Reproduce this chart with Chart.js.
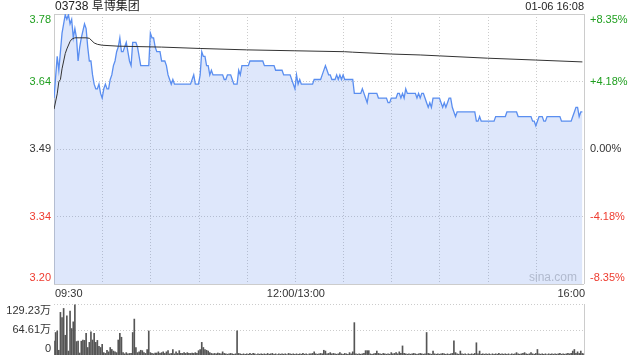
<!DOCTYPE html>
<html>
<head>
<meta charset="utf-8">
<script src="https://cdn.jsdelivr.net/npm/chart.js@4.4.1/dist/chart.umd.min.js"></script>
<style>
  body { margin: 0; background: #fff; }
  #wrap { position: relative; width: 640px; height: 360px; }
  canvas { position: absolute; left: 0; }
  #price-chart { top: 0; }
  #volume-chart { top: 300px; }
</style>
</head>
<body>
<div id="wrap">
  <canvas id="price-chart" width="640" height="300"></canvas>
  <canvas id="volume-chart" width="640" height="60"></canvas>
</div>
<script>
const STOCK_TITLE = '03738 阜博集团';
const STAMP = '01-06 16:08';
const PREV_CLOSE = 3.49;
const RANGE_PCT = 0.0835;
const TOTAL_MINUTES = 330;

const PRICE_TICK_LABELS = ['3.78', '3.64', '3.49', '3.34', '3.20'];
const PCT_TICK_LABELS = ['+8.35%', '+4.18%', '0.00%', '-4.18%', '-8.35%'];
const TIME_LABELS = ['09:30', '12:00/13:00', '16:00'];
const TIME_LABEL_MINUTES = [0, 150, 330];
const VOLUME_MAX = 129.23;
const VOLUME_TICK_LABELS = ['129.23万', '64.61万', '0'];

// minute index (0 = 09:30, 150 = 12:00/13:00, 330 = 16:00) and last price
const PRICE_MINUTES = [0, 2, 3, 4, 5, 7, 8, 9, 10, 11, 12, 13, 14, 15, 16, 17, 19, 20, 21, 22, 23, 24, 25, 26, 27, 28, 29, 30,
  31, 32, 33, 34, 35, 36, 37, 38, 39, 40, 41, 42, 43, 44, 45, 46, 47, 48, 49, 51, 52, 53, 54, 59, 60, 61, 62, 63, 64, 66, 67,
  69, 70, 71, 72, 73, 74, 75, 85, 86, 87, 88, 90, 91, 92, 93, 94, 95, 96, 97, 98, 99, 105, 106, 107, 108, 110, 111, 112, 114,
  115, 116, 117, 121, 122, 130, 131, 137, 138, 142, 143, 147, 148, 149, 150, 151, 152, 153, 154, 155, 161, 162, 166, 167, 169,
  170, 171, 172, 173, 175, 176, 177, 178, 179, 180, 181, 186, 187, 191, 192, 193, 194, 195, 196, 201, 202, 207, 208, 209, 210,
  213, 214, 215, 216, 217, 218, 219, 220, 225, 226, 227, 228, 229, 230, 231, 232, 233, 234, 235, 236, 240, 241, 242, 243, 244,
  245, 246, 247, 248, 249, 250, 251, 262, 263, 264, 265, 266, 274, 275, 281, 282, 288, 289, 297, 298, 299, 300, 301, 302, 304,
  305, 306, 307, 315, 316, 322, 323, 324, 325, 326, 327, 328, 329];
const PRICE_VALUES = [3.60, 3.69, 3.66, 3.70, 3.74, 3.78, 3.77, 3.78, 3.76, 3.77, 3.73, 3.75, 3.73, 3.68, 3.71, 3.73, 3.76, 3.75, 3.71, 3.68, 3.68, 3.65, 3.63, 3.62, 3.62, 3.63, 3.61, 3.60,
  3.62, 3.63, 3.62, 3.62, 3.64, 3.65, 3.67, 3.68, 3.70, 3.71, 3.73, 3.70, 3.70, 3.71, 3.72, 3.70, 3.68, 3.67, 3.72, 3.72, 3.71, 3.69, 3.67, 3.67, 3.74, 3.73, 3.73, 3.71, 3.70, 3.70, 3.68,
  3.68, 3.67, 3.65, 3.64, 3.63, 3.64, 3.63, 3.63, 3.64, 3.65, 3.63, 3.63, 3.65, 3.70, 3.69, 3.69, 3.67, 3.67, 3.65, 3.66, 3.65, 3.65, 3.64, 3.64, 3.65, 3.65, 3.64, 3.63, 3.63,
  3.66, 3.65, 3.67, 3.67, 3.68, 3.68, 3.67, 3.67, 3.66, 3.66, 3.65, 3.65, 3.64, 3.63, 3.62, 3.65, 3.63, 3.64, 3.63, 3.63, 3.63, 3.64, 3.64, 3.65, 3.67,
  3.66, 3.65, 3.65, 3.64, 3.64, 3.65, 3.64, 3.65, 3.64, 3.65, 3.64, 3.64, 3.61, 3.61, 3.62, 3.61, 3.60, 3.59, 3.61, 3.61, 3.60, 3.60, 3.59, 3.59, 3.60,
  3.60, 3.61, 3.61, 3.60, 3.61, 3.60, 3.62, 3.61, 3.61, 3.60, 3.61, 3.60, 3.61, 3.61, 3.60, 3.59, 3.58, 3.59, 3.58, 3.60, 3.60, 3.59, 3.58, 3.59, 3.58,
  3.59, 3.60, 3.60, 3.58, 3.57, 3.56, 3.57, 3.57, 3.55, 3.55, 3.56, 3.55, 3.55, 3.56, 3.56, 3.57, 3.57, 3.56, 3.56, 3.55, 3.55, 3.54, 3.55, 3.56, 3.56,
  3.55, 3.55, 3.56, 3.56, 3.55, 3.55, 3.56, 3.57, 3.58, 3.58, 3.56, 3.57, 3.57];

// running average price
const AVG_MINUTES = [0, 2, 3, 4, 5, 7, 8, 10, 11, 13, 20, 22, 25, 27, 30, 40, 67, 91, 120, 150, 181, 186, 210, 228, 240, 270, 300, 329];
const AVG_VALUES = [3.576, 3.609, 3.635, 3.640, 3.663, 3.696, 3.706, 3.722, 3.727, 3.730, 3.730, 3.729, 3.719, 3.716, 3.714, 3.712, 3.710,
  3.707, 3.704, 3.702, 3.700, 3.699, 3.695, 3.693, 3.691, 3.686, 3.682, 3.678];

// volume per minute, in 万 shares
const VOLUMES = [
  35, 57, 61, 12, 108, 95, 118, 50, 99, 10,
  111, 67, 84, 127, 34, 35, 5, 35, 38, 37,
  55, 19, 32, 59, 38, 55, 32, 37, 22, 19,
  27, 6, 4, 12, 8, 19, 14, 10, 8, 6,
  38, 55, 45, 6, 3, 6, 3, 4, 4, 57,
  91, 19, 6, 8, 12, 11, 6, 4, 14, 61,
  6, 4, 3, 5, 5, 8, 4, 6, 8, 4,
  8, 11, 3, 4, 14, 3, 8, 4, 11, 4,
  4, 6, 4, 6, 4, 4, 5, 4, 6, 4,
  11, 14, 32, 19, 14, 12, 10, 6, 4, 3,
  4, 3, 5, 4, 3, 8, 4, 3, 2, 3,
  4, 3, 2, 3, 61, 4, 3, 2, 3, 2,
  3, 2, 4, 2, 4, 3, 1, 3, 2, 3,
  2, 3, 2, 4, 2, 3, 4, 2, 3, 1,
  3, 2, 3, 2, 3, 1, 4, 3, 2, 3,
  2, 3, 2, 3, 2, 4, 2, 3, 1, 3,
  3, 4, 8, 3, 2, 3, 4, 3, 12, 10,
  3, 4, 6, 3, 4, 3, 2, 3, 6, 3,
  2, 4, 3, 2, 6, 3, 8, 82, 3, 2,
  3, 2, 3, 4, 11, 11, 11, 3, 2, 3,
  4, 10, 4, 3, 2, 4, 3, 2, 3, 2,
  6, 3, 4, 6, 3, 8, 4, 23, 4, 3,
  2, 3, 2, 3, 4, 3, 2, 3, 4, 3,
  2, 3, 57, 4, 3, 2, 10, 3, 2, 3,
  2, 3, 4, 3, 2, 3, 2, 3, 4, 36,
  6, 3, 2, 10, 3, 2, 3, 1, 3, 2,
  3, 2, 4, 31, 3, 10, 2, 3, 2, 3,
  2, 3, 1, 3, 2, 3, 2, 4, 2, 3,
  2, 3, 2, 3, 1, 3, 2, 3, 6, 3,
  2, 3, 4, 6, 3, 2, 3, 6, 3, 2,
  4, 14, 3, 2, 3, 2, 3, 1, 3, 2,
  3, 2, 3, 2, 3, 4, 2, 3, 2, 3,
  4, 3, 4, 10, 14, 4, 8, 4, 10, 4,
  3
];

const FONT = '"Liberation Sans", Arial, "Noto Sans CJK SC", sans-serif';
const GRID_COLOR = '#cccccc';
const UP_COLOR = '#1f9f1f';
const DOWN_COLOR = '#ee3b2f';
const TEXT_COLOR = '#333333';

const priceMin = PREV_CLOSE * (1 - RANGE_PCT);
const priceMax = PREV_CLOSE * (1 + RANGE_PCT);
const priceLevels = [2, 1, 0, -1, -2].map(k => PREV_CLOSE * (1 + RANGE_PCT * k / 2));
const labelColors = [UP_COLOR, UP_COLOR, TEXT_COLOR, DOWN_COLOR, DOWN_COLOR];

function hLine(ctx, x1, x2, y, dashed) {
  ctx.save();
  ctx.strokeStyle = GRID_COLOR;
  ctx.lineWidth = 1;
  ctx.setLineDash(dashed ? [1, 2] : []);
  ctx.beginPath();
  ctx.moveTo(x1, Math.round(y) + 0.5);
  ctx.lineTo(x2, Math.round(y) + 0.5);
  ctx.stroke();
  ctx.restore();
}

function vLine(ctx, x, y1, y2, dashed) {
  ctx.save();
  ctx.strokeStyle = GRID_COLOR;
  ctx.lineWidth = 1;
  ctx.setLineDash(dashed ? [1, 2] : []);
  ctx.beginPath();
  ctx.moveTo(Math.round(x) + 0.5, y1);
  ctx.lineTo(Math.round(x) + 0.5, y2);
  ctx.stroke();
  ctx.restore();
}

function text(ctx, str, x, y, align, color, size) {
  ctx.save();
  ctx.font = `${size || 11}px ${FONT}`;
  ctx.fillStyle = color;
  ctx.textAlign = align;
  ctx.textBaseline = 'middle';
  ctx.fillText(str, x, y);
  ctx.restore();
}

const priceFrame = {
  id: 'priceFrame',
  beforeDatasetsDraw(chart) {
    const { ctx, chartArea: { left, right, top, bottom }, scales: { x, y } } = chart;
    priceLevels.forEach((v, i) => {
      hLine(ctx, left, right, y.getPixelForValue(v), i !== 0 && i !== priceLevels.length - 1);
    });
    for (let m = 0; m <= TOTAL_MINUTES; m += 30) {
      vLine(ctx, x.getPixelForValue(m), top, bottom, m !== 0 && m !== TOTAL_MINUTES);
    }
    text(ctx, 'sina.com', right - 31, bottom - 6, 'center', '#c8c8c8', 12);
  },
  afterDraw(chart) {
    const { ctx, chartArea: { left, right, top, bottom }, scales: { x, y } } = chart;
    priceLevels.forEach((v, i) => {
      let py = y.getPixelForValue(v);
      if (i === 0) py += 6;
      if (i === priceLevels.length - 1) py -= 6;
      text(ctx, PRICE_TICK_LABELS[i], left - 3, py, 'right', labelColors[i]);
      text(ctx, PCT_TICK_LABELS[i], right + 6, py, 'left', labelColors[i]);
    });
    TIME_LABELS.forEach((lbl, i) => {
      const px = x.getPixelForValue(TIME_LABEL_MINUTES[i]);
      const align = i === 0 ? 'left' : (i === TIME_LABELS.length - 1 ? 'right' : 'center');
      text(ctx, lbl, align === 'left' ? px + 1 : (align === 'center' ? px + 1 : px + 1), bottom + 10, align, TEXT_COLOR);
    });
    text(ctx, STOCK_TITLE, left + 1, top - 7, 'left', '#222', 12);
    text(ctx, STAMP, right, top - 7, 'right', '#222', 11);
  }
};

new Chart(document.getElementById('price-chart'), {
  type: 'line',
  data: {
    datasets: [{
      label: 'avg',
      data: AVG_MINUTES.map((m, i) => ({ x: m, y: AVG_VALUES[i] })),
      borderColor: '#333333',
      borderWidth: 1,
      pointRadius: 0,
      fill: false,
      order: 0
    }, {
      label: 'price',
      data: PRICE_MINUTES.map((m, i) => ({ x: m, y: PRICE_VALUES[i] })),
      borderColor: '#5a8ef0',
      borderWidth: 1.3,
      backgroundColor: 'rgba(80, 130, 235, 0.19)',
      pointRadius: 0,
      fill: 'start',
      order: 1
    }]
  },
  options: {
    responsive: false,
    animation: false,
    devicePixelRatio: 1,
    layout: { padding: { left: 54, right: 56, top: 14, bottom: 16 } },
    plugins: { legend: { display: false }, tooltip: { enabled: false } },
    scales: {
      x: { type: 'linear', display: false, min: 0, max: TOTAL_MINUTES },
      y: { display: false, min: priceMin, max: priceMax }
    }
  },
  plugins: [priceFrame]
});

const volumeFrame = {
  id: 'volumeFrame',
  beforeDatasetsDraw(chart) {
    const { ctx, chartArea: { left, right, top, bottom }, scales: { y } } = chart;
    hLine(ctx, left, right, y.getPixelForValue(VOLUME_MAX), true);
    hLine(ctx, left, right, y.getPixelForValue(VOLUME_MAX / 2), true);
    vLine(ctx, right, top, bottom, false);
  },
  afterDraw(chart) {
    const { ctx, chartArea: { left }, scales: { y } } = chart;
    const vals = [VOLUME_MAX, VOLUME_MAX / 2, 0];
    const shift = [7, 0, -6];
    vals.forEach((v, i) => {
      text(ctx, VOLUME_TICK_LABELS[i], left - 3, y.getPixelForValue(v) + shift[i], 'right', TEXT_COLOR);
    });
  }
};

new Chart(document.getElementById('volume-chart'), {
  type: 'bar',
  data: {
    datasets: [{
      data: VOLUMES.map((v, i) => ({ x: i, y: v })),
      backgroundColor: '#555555',
      barThickness: 1,
      borderWidth: 0
    }]
  },
  options: {
    responsive: false,
    animation: false,
    devicePixelRatio: 1,
    layout: { padding: { left: 54, right: 56, top: 4, bottom: 5 } },
    plugins: { legend: { display: false }, tooltip: { enabled: false } },
    scales: {
      x: { type: 'linear', display: false, min: 0, max: TOTAL_MINUTES, offset: false },
      y: { display: false, min: 0, max: VOLUME_MAX }
    }
  },
  plugins: [volumeFrame]
});
</script>
</body>
</html>
